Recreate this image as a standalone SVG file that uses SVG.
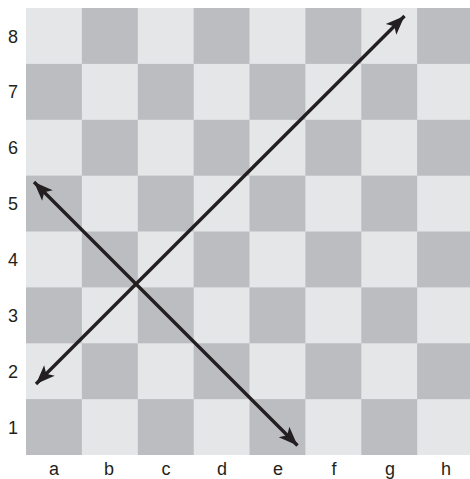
<svg xmlns="http://www.w3.org/2000/svg" width="470" height="479" viewBox="0 0 470 479">
<style>
.l{fill:#e5e6e8}.d{fill:#bcbdc1}
.t{font-family:"Liberation Sans",Arial,sans-serif;font-size:18px;fill:#231f20;text-anchor:middle}
.ar{stroke:#231f20;stroke-width:3.4;fill:none}
</style>
<defs>
<marker id="ah" markerUnits="userSpaceOnUse" viewBox="-20 -8 21 16" refX="0" refY="0" markerWidth="21" markerHeight="16" orient="auto">
<path d="M0,0 L-19,-7.5 L-14.5,0 L-19,7.5 Z" fill="#231f20"/>
</marker>
</defs>
<g id="board">
<rect x="26" y="8" width="447" height="447" class="l"/>
<g class="d">
<rect x="81.9" y="8" width="55.9" height="55.9"/><rect x="193.6" y="8" width="55.9" height="55.9"/><rect x="305.4" y="8" width="55.9" height="55.9"/><rect x="417.1" y="8" width="55.9" height="55.9"/>
<rect x="26" y="63.9" width="55.9" height="55.9"/><rect x="137.8" y="63.9" width="55.9" height="55.9"/><rect x="249.5" y="63.9" width="55.9" height="55.9"/><rect x="361.3" y="63.9" width="55.9" height="55.9"/>
<rect x="81.9" y="119.8" width="55.9" height="55.9"/><rect x="193.6" y="119.8" width="55.9" height="55.9"/><rect x="305.4" y="119.8" width="55.9" height="55.9"/><rect x="417.1" y="119.8" width="55.9" height="55.9"/>
<rect x="26" y="175.6" width="55.9" height="55.9"/><rect x="137.8" y="175.6" width="55.9" height="55.9"/><rect x="249.5" y="175.6" width="55.9" height="55.9"/><rect x="361.3" y="175.6" width="55.9" height="55.9"/>
<rect x="81.9" y="231.5" width="55.9" height="55.9"/><rect x="193.6" y="231.5" width="55.9" height="55.9"/><rect x="305.4" y="231.5" width="55.9" height="55.9"/><rect x="417.1" y="231.5" width="55.9" height="55.9"/>
<rect x="26" y="287.4" width="55.9" height="55.9"/><rect x="137.8" y="287.4" width="55.9" height="55.9"/><rect x="249.5" y="287.4" width="55.9" height="55.9"/><rect x="361.3" y="287.4" width="55.9" height="55.9"/>
<rect x="81.9" y="343.3" width="55.9" height="55.9"/><rect x="193.6" y="343.3" width="55.9" height="55.9"/><rect x="305.4" y="343.3" width="55.9" height="55.9"/><rect x="417.1" y="343.3" width="55.9" height="55.9"/>
<rect x="26" y="399.1" width="55.9" height="55.9"/><rect x="137.8" y="399.1" width="55.9" height="55.9"/><rect x="249.5" y="399.1" width="55.9" height="55.9"/><rect x="361.3" y="399.1" width="55.9" height="55.9"/>
</g>
</g>
<g id="labels" class="t">
<text x="13" y="42.5">8</text><text x="13" y="98.4">7</text><text x="13" y="154.3">6</text><text x="13" y="210.2">5</text>
<text x="13" y="266">4</text><text x="13" y="321.9">3</text><text x="13" y="377.8">2</text><text x="13" y="433.7">1</text>
<text x="54" y="474.5">a</text><text x="109" y="474.5">b</text><text x="166" y="474.5">c</text><text x="222" y="474.5">d</text>
<text x="278" y="474.5">e</text><text x="334" y="474.5">f</text><text x="390" y="474.5">g</text><text x="446" y="474.5">h</text>
</g>
<g id="connectors" class="ar">
<line x1="136" y1="284" x2="36" y2="384" marker-end="url(#ah)"/>
<line x1="136" y1="284" x2="404.5" y2="16" marker-end="url(#ah)"/>
<line x1="136" y1="284" x2="34" y2="182" marker-end="url(#ah)"/>
<line x1="136" y1="284" x2="297.5" y2="445.5" marker-end="url(#ah)"/>
</g>
</svg>
